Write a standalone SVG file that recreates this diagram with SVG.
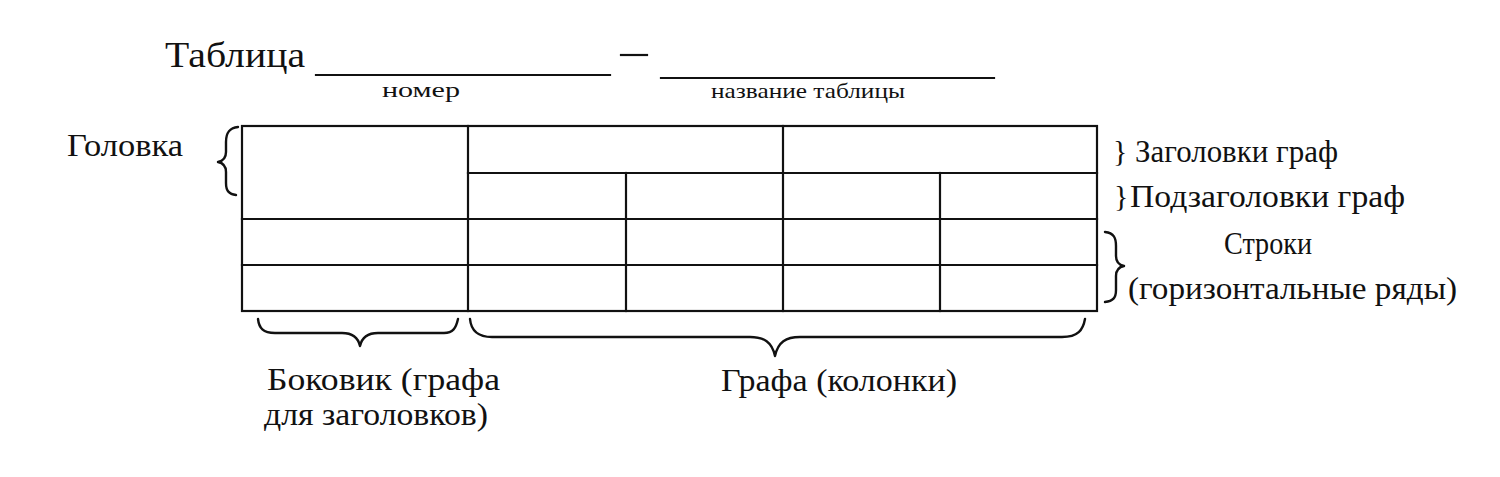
<svg xmlns="http://www.w3.org/2000/svg" width="1500" height="477" viewBox="0 0 1500 477">
<style>
.t{font-family:"Liberation Serif","Times New Roman","DejaVu Serif",serif;fill:#111}
.ln{stroke:#111;stroke-width:2.2;fill:none;stroke-linecap:square}
.br{stroke:#111;stroke-width:2.4;fill:none;stroke-linecap:round;stroke-linejoin:round}
</style>
<rect width="1500" height="477" fill="#fff"/>
<g id="title">
<text class="t" x="165" y="67" font-size="36" textLength="140" lengthAdjust="spacingAndGlyphs">Таблица</text>
<line class="ln" x1="316" y1="75" x2="610" y2="75" stroke-width="1.6"/>
<line class="ln" x1="621" y1="55" x2="647" y2="55" stroke-width="1.6"/>
<line class="ln" x1="661" y1="78" x2="994" y2="78" stroke-width="1.6"/>
<text class="t" x="382" y="97" font-size="21" textLength="78" lengthAdjust="spacingAndGlyphs">номер</text>
<text class="t" x="711" y="98" font-size="21" textLength="194" lengthAdjust="spacingAndGlyphs">название таблицы</text>
</g>
<g id="table">
<rect class="ln" x="242" y="126" width="855" height="185"/>
<line class="ln" x1="468" y1="126" x2="468" y2="311"/>
<line class="ln" x1="783" y1="126" x2="783" y2="311"/>
<line class="ln" x1="626" y1="173" x2="626" y2="311"/>
<line class="ln" x1="940" y1="173" x2="940" y2="311"/>
<line class="ln" x1="468" y1="173" x2="1097" y2="173"/>
<line class="ln" x1="242" y1="219" x2="1097" y2="219"/>
<line class="ln" x1="242" y1="265" x2="1097" y2="265"/>
</g>
<g id="head">
<text class="t" x="67" y="156" font-size="31" textLength="116" lengthAdjust="spacingAndGlyphs">Головка</text>
</g>
<g id="col-heads">
<text class="t" x="1113" y="161" font-size="30">}</text>
<text class="t" x="1135" y="162" font-size="31" textLength="203" lengthAdjust="spacingAndGlyphs">Заголовки граф</text>
</g>
<g id="sub-heads">
<text class="t" x="1114" y="206" font-size="30">}</text>
<text class="t" x="1130" y="207" font-size="31" textLength="275" lengthAdjust="spacingAndGlyphs">Подзаголовки граф</text>
</g>
<g id="rows">
<text class="t" x="1224" y="254" font-size="31" textLength="88" lengthAdjust="spacingAndGlyphs">Строки</text>
<text class="t" x="1128" y="299" font-size="31" textLength="329" lengthAdjust="spacingAndGlyphs">(горизонтальные ряды)</text>
</g>
<g id="stub">
<text class="t" x="267" y="390" font-size="32" textLength="233" lengthAdjust="spacingAndGlyphs">Боковик (графа</text>
<text class="t" x="264" y="425" font-size="32" textLength="224" lengthAdjust="spacingAndGlyphs">для заголовков)</text>
</g>
<g id="columns">
<text class="t" x="721" y="391" font-size="32" textLength="236" lengthAdjust="spacingAndGlyphs">Графа (колонки)</text>
</g>
<g id="connectors">
<path class="br" d="M238,127 C229,128 226,133 226,142 L226,152 C226,158 223,161 218,162 C223,163 226,166 226,172 L226,183 C226,191 229,194 236,195"/>
<path class="br" d="M1105,232 C1114,233 1116,238 1116,246 L1116,256 C1116,262 1119,265 1124,266 C1119,267 1116,270 1116,276 L1116,290 C1116,298 1113,301 1105,302"/>
<path class="br" d="M258,319 C259,328 263,333 275,333 L342,333 C352,333 358,337 360,346 C362,337 368,333 378,333 L444,333 C453,333 456,328 458,319"/>
<path class="br" d="M470,319 C471,330 477,337 492,337 L750,337 C764,337 772,342 775,356 C778,342 786,337 800,337 L1062,337 C1078,337 1083,330 1085,319"/>
</g>
</svg>
